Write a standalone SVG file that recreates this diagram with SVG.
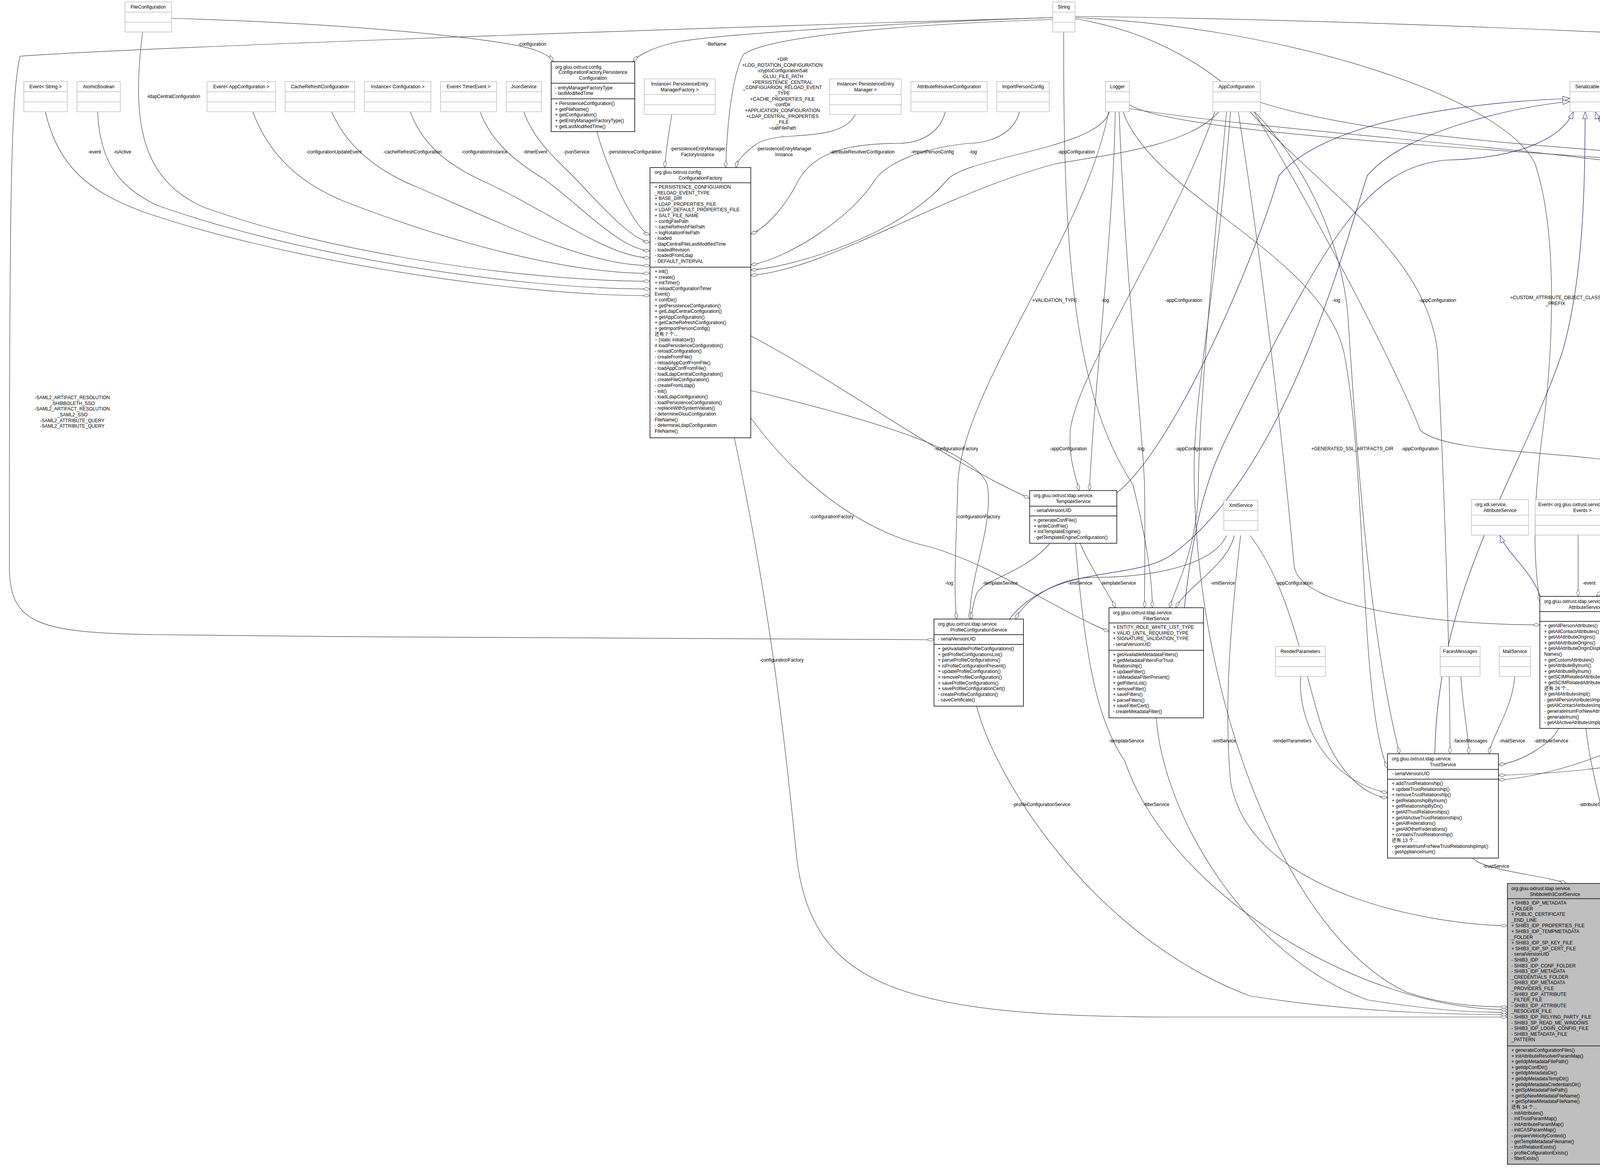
<svg xmlns="http://www.w3.org/2000/svg" width="5429" height="2988" viewBox="0 0 5429 2988">
<defs>
<style>
text{font-family:"Liberation Sans","Noto Sans CJK SC",Arial,sans-serif;font-size:12px;fill:#000}
.c{text-anchor:middle}
.e rect{fill:#fff;stroke:#bfbfbf;stroke-width:1.5}
.e line{stroke:#bfbfbf;stroke-width:1.5}
.n rect{fill:#fff;stroke:#000;stroke-width:1.5}
.n line{stroke:#000;stroke-width:1.5}
.red rect{stroke:#ff0000}
.red line{stroke:#ff0000}
.gry rect{fill:#bfbfbf}
#edges path{fill:none;stroke:#404040;stroke-width:1.2}
#edges path.i{stroke:#191970}
#edges text{text-anchor:middle}
</style>
<marker id="d" viewBox="0 0 20 10" refX="19" refY="5" markerWidth="20" markerHeight="10" orient="auto" markerUnits="userSpaceOnUse"><path d="M1,5 L10,1 L19,5 L10,9 Z" fill="#fff" stroke="#404040"/></marker>
<marker id="t" viewBox="0 0 20 14" refX="19" refY="7" markerWidth="20" markerHeight="14" orient="auto" markerUnits="userSpaceOnUse"><path d="M1,1 L19,7 L1,13 Z" fill="#fff" stroke="#191970"/></marker>
</defs>
<rect width="5429" height="2988" fill="#fff"/>

<g id="edges">
<!-- into ConfigurationFactory -->
<path marker-end="url(#d)" d="M116,286 C150,430 230,490 360,540 C700,660 1300,757 1664,757"/>
<path marker-end="url(#d)" d="M250,286 C255,420 310,480 400,525 C750,650 1300,740 1664,740"/>
<path marker-end="url(#d)" d="M365,82 C335,320 365,460 520,530 C850,650 1350,720 1664,720"/>
<path marker-end="url(#d)" d="M647,286 C690,400 770,470 880,515 C1150,620 1450,700 1664,700"/>
<path marker-end="url(#d)" d="M849,286 C890,380 970,440 1070,480 C1280,570 1500,680 1664,680"/>
<path marker-end="url(#d)" d="M1050,286 C1085,380 1160,430 1250,470 C1420,550 1560,660 1664,660"/>
<path marker-end="url(#d)" d="M1229,286 C1260,370 1330,420 1395,460 C1490,530 1590,640 1664,642"/>
<path marker-end="url(#d)" d="M1341,286 C1370,370 1440,420 1485,470 C1550,540 1620,615 1664,620"/>
<path marker-end="url(#d)" d="M1528,337 C1545,400 1565,440 1580,480 C1610,540 1640,595 1664,601"/>
<path marker-end="url(#d)" d="M1720,293 C1712,340 1704,390 1702,429"/>
<path marker-end="url(#d)" d="M2695,50 C2300,62 1960,95 1903,140 C1870,200 1860,350 1858,429"/>
<path marker-end="url(#d)" d="M2190,293 C2150,370 1990,330 1935,370 C1905,392 1888,410 1884,429"/>
<path marker-end="url(#d)" d="M2420,286 C2405,345 2350,367 2300,367 C2150,367 2080,400 2045,460 C2010,530 1960,585 1922,599"/>
<path marker-end="url(#d)" d="M2610,286 C2595,345 2530,367 2480,367 C2350,380 2270,420 2240,460 C2180,560 2010,665 1922,678"/>
<path marker-end="url(#d)" d="M2840,286 C2815,380 2480,400 2425,460 C2310,600 2030,685 1922,691"/>
<path marker-end="url(#d)" d="M3120,286 C3040,380 2800,400 2700,420 C2400,500 2120,690 1922,705"/>
<!-- into PersistenceConfiguration -->
<path marker-end="url(#d)" d="M439,47 C900,60 1300,100 1375,130 C1400,140 1412,150 1416,158"/>
<path marker-end="url(#d)" d="M2695,45 C2300,58 1800,90 1722,110 C1665,125 1635,140 1620,158"/>
<!-- from ConfigurationFactory -->
<path marker-end="url(#d)" d="M1922,860 C2150,980 2420,1180 2636,1276"/>
<path marker-end="url(#d)" d="M1922,1000 C2300,1090 2520,1170 2529,1250 C2540,1360 2480,1480 2483,1585"/>
<path marker-end="url(#d)" d="M1922,1070 C2040,1230 2200,1360 2380,1400 C2550,1450 2700,1560 2839,1617"/>
<path marker-end="url(#d)" d="M1880,1121 C1960,1500 2000,1800 2040,2200 C2080,2520 2300,2604 3000,2604 C3500,2604 3800,2604 3859,2604"/>
<!-- Logger -->
<path marker-end="url(#d)" d="M2855,286 C2850,600 2800,1000 2789,1256"/>
<path marker-end="url(#d)" d="M2875,286 C2950,500 3380,650 3440,900 C3500,1200 3480,1800 3552,1967"/>
<path marker-end="url(#d)" d="M2891,268 C3000,340 3800,380 4400,425 C4580,440 4645,560 4654,656"/>
<path marker-end="url(#d)" d="M2891,278 C3400,360 4500,400 4800,560 C4860,650 4862,1000 4862,1227"/>
<path marker-end="url(#d)" d="M2865,286 C2880,700 2925,1100 2930,1240 C2932,1400 2930,1500 2930,1556"/>
<path marker-end="url(#d)" d="M2838,286 C2780,600 2460,1000 2452,1240 C2448,1400 2440,1500 2449,1585"/>
<!-- AppConfiguration -->
<path marker-end="url(#d)" d="M3226,262 C3600,380 4300,380 4500,430 C4620,460 4660,560 4662,656"/>
<path marker-end="url(#d)" d="M3140,286 C3100,700 3068,1100 3068,1240 C3068,1400 3010,1500 2994,1556"/>
<path marker-end="url(#d)" d="M3200,286 C3400,500 3650,650 3680,900 C3700,1300 3712,1700 3712,1930"/>
<path marker-end="url(#d)" d="M3110,286 C3000,600 2760,950 2740,1100 C2735,1180 2755,1220 2762,1256"/>
<path marker-end="url(#d)" d="M3150,286 C3120,700 3057,1000 3057,1200 C3057,1800 3300,2400 3600,2540 C3700,2575 3800,2578 3859,2578"/>
<path marker-end="url(#d)" d="M3170,286 C3250,800 3300,1300 3313,1450 C3330,1560 3700,1600 3942,1600"/>
<path marker-end="url(#d)" d="M3210,286 C3400,600 3600,1000 3635,1100 C3700,1170 4100,1150 4230,1204"/>
<!-- String -->
<path marker-end="url(#d)" d="M2723,82 C2722,600 2740,1000 2900,1240 C2940,1400 2950,1500 2950,1556"/>
<path marker-end="url(#d)" d="M2752,45 C3300,70 3850,250 3930,420 C3990,600 3975,900 3950,1100 C3930,1250 3920,1400 3942,1540"/>
<path marker-end="url(#d)" d="M2752,48 C3200,120 3420,500 3450,800 C3470,1100 3500,1600 3583,1930"/>
<path marker-end="url(#d)" d="M2752,42 C3500,50 4700,100 5015,147 C5171,160 5241,300 5241,600 L5241,2500 C5241,2555 5180,2560 4102,2560"/>
<path marker-end="url(#d)" d="M2695,45 C1500,80 300,125 51,144 C28,250 24,500 24,1450 C24,1600 100,1620 400,1625 C1200,1635 2200,1638 2391,1638"/>
<!-- PersistenceEntryManager / CacheService -->
<path marker-end="url(#d)" d="M4876,286 C4860,380 4780,500 4727,656"/>
<path marker-end="url(#d)" d="M4841,287 C4750,360 4500,380 4405,450 C4350,520 4345,700 4345,900 C4340,1050 4230,1100 4212,1204"/>
<path marker-end="url(#d)" d="M4962,287 C5050,380 5101,420 5110,600 C5120,1000 5110,1600 5100,2200 C5090,2500 4400,2575 4102,2575"/>
<path marker-end="url(#d)" d="M4661,286 C4661,450 4668,550 4670,656"/>
<!-- OrganizationService -->
<path marker-end="url(#d)" d="M4640,892 C4600,1000 4400,1100 4354,1204"/>
<path marker-end="url(#d)" d="M4660,892 C4650,1100 4610,1300 4600,1450 C4580,1750 4100,1980 3836,1997"/>
<path marker-end="url(#d)" d="M4684,892 C4700,1200 4761,1500 4761,1800 C4761,2300 4400,2595 4102,2600"/>
<!-- EncryptionService -->
<path marker-end="url(#d)" d="M4193,842 C4200,1000 4300,1100 4315,1204"/>
<path marker-end="url(#d)" d="M4233,842 C4300,1100 4470,1400 4466,1700 C4460,2200 4300,2580 4102,2592"/>
<!-- ApplianceService -->
<path marker-end="url(#d)" d="M4230,1442 C4180,1480 4120,1490 4087,1527"/>
<path marker-end="url(#d)" d="M4340,1442 C4380,1600 4390,1800 4380,2100 C4370,2400 4250,2580 4102,2583"/>
<path marker-end="url(#d)" d="M4300,1442 C4330,1650 4356,1800 4340,1880 C4300,1960 4000,1980 3836,1985"/>
<!-- AttributeService -->
<path marker-end="url(#d)" d="M3990,1865 C3975,1900 3900,1950 3836,1958"/>
<path marker-end="url(#d)" d="M4060,1865 C4080,2050 4170,2250 4102,2311"/>
<!-- TemplateService -->
<path marker-end="url(#d)" d="M2688,1391 C2620,1470 2520,1480 2500,1520 C2490,1550 2487,1570 2487,1585"/>
<path marker-end="url(#d)" d="M2765,1391 C2800,1470 2840,1520 2855,1556"/>
<path marker-end="url(#d)" d="M2753,1391 C2780,1700 2808,1840 2880,1950 C3000,2300 3500,2585 3859,2585"/>
<!-- XmlService -->
<path marker-end="url(#d)" d="M3140,1371 C3100,1460 2900,1480 2800,1478 C2700,1480 2620,1540 2600,1585"/>
<path marker-end="url(#d)" d="M3160,1371 C3140,1450 3040,1500 3010,1556"/>
<path marker-end="url(#d)" d="M3200,1371 C3300,1500 3334,1700 3380,1850 C3420,1980 3500,2040 3552,2042"/>
<path marker-end="url(#d)" d="M3176,1371 C3150,1600 3133,1800 3150,2000 C3200,2300 3700,2370 3859,2370"/>
<!-- small services -->
<path marker-end="url(#d)" d="M3330,1732 C3320,1850 3400,2000 3552,2030"/>
<path marker-end="url(#d)" d="M3740,1732 C3745,1820 3760,1880 3760,1930"/>
<path marker-end="url(#d)" d="M3878,1732 C3870,1820 3820,1880 3812,1930"/>
<path marker-end="url(#d)" d="M4040,1371 L4040,1527"/>
<!-- into Shibboleth3ConfService -->
<path marker-end="url(#d)" d="M2500,1808 C2550,2000 2800,2400 3200,2550 C3500,2598 3800,2598 3859,2598"/>
<path marker-end="url(#d)" d="M2960,1838 C2980,2100 3200,2450 3500,2560 C3700,2592 3800,2592 3859,2592"/>
<path marker-end="url(#d)" d="M3770,2197 C3800,2230 3950,2240 4010,2262"/>
<path marker-end="url(#d)" d="M4880,1420 C4900,1700 5013,1900 5000,2100 C4980,2450 4500,2613 4102,2613"/>
<path marker-end="url(#d)" d="M5315,2092 C5300,2300 5000,2600 4102,2625"/>
<!-- inheritance -->
<path class="i" marker-end="url(#t)" d="M2859,1262 C3000,1150 3200,700 3274,450 C3400,300 3800,260 4019,252"/>
<path class="i" marker-end="url(#t)" d="M2584,1585 C2700,1440 2900,1490 3000,1420 C3300,1200 3450,600 3500,450 C3600,330 3900,270 4019,260"/>
<path class="i" marker-end="url(#t)" d="M3032,1556 C3060,1300 3100,1200 3150,1100 C3400,600 3500,430 3700,410 C3900,405 4000,350 4028,286"/>
<path class="i" marker-end="url(#t)" d="M3673,1930 C3680,1500 3900,1200 4000,900 C4057,700 4057,450 4058,286"/>
<path class="i" marker-end="url(#t)" d="M3943,1527 C3920,1460 3860,1420 3840,1371"/>
<path class="i" marker-end="url(#t)" d="M4205,1204 C4150,1100 4132,700 4132,450 C4130,350 4095,320 4084,286"/>
<path class="i" marker-end="url(#t)" d="M4204,707 C4190,620 4110,420 4098,286"/>
<path class="i" marker-end="url(#t)" d="M4636,656 C4600,500 4450,400 4435,293"/>
<path class="i" marker-end="url(#t)" d="M4880,1227 C4880,900 4910,500 4858,380 C4700,355 4300,350 4200,330 C4150,310 4125,290 4108,268"/>
<path class="i" marker-end="url(#t)" d="M4102,2538 C4300,2500 4500,1700 4512,1480 C4515,1300 4500,1100 4470,1000 C4380,950 4340,850 4345,700 C4350,500 4250,380 4104,286"/>

<!-- labels -->
<text x="242" y="393">-event</text>
<text x="313" y="393">-isActive</text>
<text x="444" y="251">-ldapCentralConfiguration</text>
<text x="855" y="393">-configurationUpdateEvent</text>
<text x="1056" y="393">-cacheRefreshConfiguration</text>
<text x="1240" y="393">-configurationInstance</text>
<text x="1370" y="393">-timerEvent</text>
<text x="1476" y="393">-jsonService</text>
<text x="1625" y="393">-persistenceConfiguration</text>
<text x="1786" y="385">-persistenceEntryManager</text>
<text x="1786" y="400">FactoryInstance</text>
<text x="2007" y="385">-persistenceEntryManager</text>
<text x="2007" y="400">Instance</text>
<text x="2207" y="393">-attributeResolverConfiguration</text>
<text x="2387" y="393">-importPersonConfig</text>
<text x="2491" y="393">-log</text>
<text x="2755" y="393">-appConfiguration</text>
<text x="4118" y="393">-log</text>
<text x="4414" y="393">-appConfiguration</text>
<text x="4710" y="393">-cacheService</text>
<text x="4901" y="393">-ldapEntryManager</text>
<text x="1362" y="117">-configuration</text>
<text x="1834" y="117">-fileName</text>
<text x="2003" y="156">+DIR</text>
<text x="2003" y="171">+LOG_ROTATION_CONFIGURATION</text>
<text x="2003" y="185">-cryptoConfigurationSalt</text>
<text x="2003" y="200">-GLUU_FILE_PATH</text>
<text x="2003" y="215">+PERSISTENCE_CENTRAL</text>
<text x="2003" y="228">_CONFIGUARION_RELOAD_EVENT</text>
<text x="2003" y="243">_TYPE</text>
<text x="2003" y="258">+CACHE_PROPERTIES_FILE</text>
<text x="2003" y="272">-confDir</text>
<text x="2003" y="287">+APPLICATION_CONFIGURATION</text>
<text x="2003" y="302">+LDAP_CENTRAL_PROPERTIES</text>
<text x="2003" y="317">_FILE</text>
<text x="2003" y="332">~saltFilePath</text>
<text x="2003" y="349">...</text>
<text x="2700" y="773">+VALIDATION_TYPE</text>
<text x="2829" y="773">-log</text>
<text x="3030" y="773">-appConfiguration</text>
<text x="3421" y="773">-log</text>
<text x="3680" y="773">-appConfiguration</text>
<text x="3982" y="766">+CUSTOM_ATTRIBUTE_OBJECT_CLASS</text>
<text x="3982" y="781">_PREFIX</text>
<text x="4485" y="778">-ldapEntryManager</text>
<text x="4830" y="773">-log</text>
<text x="2448" y="1153">-configurationFactory</text>
<text x="2735" y="1153">-appConfiguration</text>
<text x="2920" y="1153">-log</text>
<text x="3057" y="1153">-appConfiguration</text>
<text x="3462" y="1153">+GENERATED_SSL_ARTIFACTS_DIR</text>
<text x="3635" y="1153">-appConfiguration</text>
<text x="4207" y="1153">-encryptionService</text>
<text x="4466" y="1153">-organizationService</text>
<text x="2129" y="1327">-configurationFactory</text>
<text x="2504" y="1327">-configurationFactory</text>
<text x="4609" y="1327">-organizationService</text>
<text x="5121" y="1323">-ldapEntryManager</text>
<text x="2430" y="1497">-log</text>
<text x="2561" y="1497">-templateService</text>
<text x="2765" y="1497">-xmlService</text>
<text x="2863" y="1497">-templateService</text>
<text x="3130" y="1497">-xmlService</text>
<text x="3313" y="1497">-appConfiguration</text>
<text x="4068" y="1497">-event</text>
<text x="4160" y="1497">-applianceService</text>
<text x="2001" y="1694">-configurationFactory</text>
<text x="3334" y="1694">-xmlService</text>
<text x="4390" y="1694">-applianceService</text>
<text x="4466" y="1694">-encryptionService</text>
<text x="4761" y="1694">-organizationService</text>
<text x="2884" y="1901">-templateService</text>
<text x="3133" y="1901">-xmlService</text>
<text x="3307" y="1901">-renderParameters</text>
<text x="3764" y="1901">-facesMessages</text>
<text x="3871" y="1901">-mailService</text>
<text x="3971" y="1901">-attributeService</text>
<text x="4356" y="1901">-applianceService</text>
<text x="5013" y="1901">-casService</text>
<text x="2666" y="2064">-profileConfigurationService</text>
<text x="2960" y="2064">-filterService</text>
<text x="4086" y="2064">-attributeService</text>
<text x="3830" y="2222">-trustService</text>
<text x="5315" y="2220">-schemaService</text>
<text x="185" y="1022">-SAML2_ARTIFACT_RESOLUTION</text>
<text x="185" y="1037">_SHIBBOLETH_SSO</text>
<text x="185" y="1051">-SAML2_ARTIFACT_RESOLUTION</text>
<text x="185" y="1066">_SAML2_SSO</text>
<text x="185" y="1081">-SAML2_ATTRIBUTE_QUERY</text>
<text x="185" y="1095">-SAML2_ATTRIBUTE_QUERY</text>
<text x="5334" y="1196">-SHIB3_SP_METADATA</text>
<text x="5334" y="1208">_FILE_PATTERN</text>
<text x="5334" y="1224">-SHIB3_IDP_CAS_PROTOCOL</text>
<text x="5334" y="1237">_FILE</text>
<text x="5334" y="1252">-SHIB3_SP</text>
<text x="5334" y="1266">-SHIB3_SP_READ_ME</text>
<text x="5334" y="1281">+SHIB3_IDP_SP_METADATA</text>
<text x="5334" y="1295">_FILE</text>
<text x="5334" y="1310">+PUBLIC_CERTIFICATE</text>
<text x="5334" y="1323">_START_LINE</text>
<text x="5334" y="1338">+SHIB3_SP_SHIBBOLETH2</text>
<text x="5334" y="1352">_FILE</text>
<text x="5334" y="1367">+SHIB3_SP_ATTRIBUTE</text>
<text x="5334" y="1381">_MAP_FILE</text>
<text x="5334" y="1396">-SHIB3_SAML_NAMEID</text>
<text x="5334" y="1411">_FILE</text>
<text x="5334" y="1425">+SHIB3_IDP_IDP_METADATA</text>
<text x="5334" y="1439">_FILE</text>
<text x="5334" y="1454">...</text>
</g>

<!-- external simple nodes -->
<g id="FileConfiguration" class="e" transform="translate(320,5)"><rect width="119" height="77"/><line x1="0" y1="26" x2="119" y2="26"/><line x1="0" y1="52" x2="119" y2="52"/><text class="c" x="59.5" y="17">FileConfiguration</text></g>
<g id="EventString" class="e" transform="translate(61,209)"><rect width="111" height="77"/><line x1="0" y1="26" x2="111" y2="26"/><line x1="0" y1="52" x2="111" y2="52"/><text class="c" x="55.5" y="17">Event&lt; String &gt;</text></g>
<g id="AtomicBoolean" class="e" transform="translate(197,209)"><rect width="111" height="77"/><line x1="0" y1="26" x2="111" y2="26"/><line x1="0" y1="52" x2="111" y2="52"/><text class="c" x="55.5" y="17">AtomicBoolean</text></g>
<g id="EventAppConfiguration" class="e" transform="translate(530,209)"><rect width="175" height="77"/><line x1="0" y1="26" x2="175" y2="26"/><line x1="0" y1="52" x2="175" y2="52"/><text class="c" x="87.5" y="17">Event&lt; AppConfiguration &gt;</text></g>
<g id="CacheRefreshConfiguration" class="e" transform="translate(730,209)"><rect width="178" height="77"/><line x1="0" y1="26" x2="178" y2="26"/><line x1="0" y1="52" x2="178" y2="52"/><text class="c" x="89" y="17">CacheRefreshConfiguration</text></g>
<g id="InstanceConfiguration" class="e" transform="translate(933,209)"><rect width="170" height="77"/><line x1="0" y1="26" x2="170" y2="26"/><line x1="0" y1="52" x2="170" y2="52"/><text class="c" x="85" y="17">Instance&lt; Configuration &gt;</text></g>
<g id="EventTimerEvent" class="e" transform="translate(1128,209)"><rect width="143" height="77"/><line x1="0" y1="26" x2="143" y2="26"/><line x1="0" y1="52" x2="143" y2="52"/><text class="c" x="71.5" y="17">Event&lt; TimerEvent &gt;</text></g>
<g id="JsonService" class="e" transform="translate(1296,209)"><rect width="90" height="77"/><line x1="0" y1="26" x2="90" y2="26"/><line x1="0" y1="52" x2="90" y2="52"/><text class="c" x="45" y="17">JsonService</text></g>
<g id="AttributeResolverConfiguration" class="e" transform="translate(2332,209)"><rect width="195" height="77"/><line x1="0" y1="26" x2="195" y2="26"/><line x1="0" y1="52" x2="195" y2="52"/><text class="c" x="97.5" y="17">AttributeResolverConfiguration</text></g>
<g id="ImportPersonConfig" class="e" transform="translate(2552,209)"><rect width="134" height="77"/><line x1="0" y1="26" x2="134" y2="26"/><line x1="0" y1="52" x2="134" y2="52"/><text class="c" x="67" y="17">ImportPersonConfig</text></g>
<g id="String" class="e" transform="translate(2695,5)"><rect width="57" height="77"/><line x1="0" y1="26" x2="57" y2="26"/><line x1="0" y1="52" x2="57" y2="52"/><text class="c" x="28.5" y="17">String</text></g>
<g id="Logger" class="e" transform="translate(2830,209)"><rect width="61" height="77"/><line x1="0" y1="26" x2="61" y2="26"/><line x1="0" y1="52" x2="61" y2="52"/><text class="c" x="30.5" y="17">Logger</text></g>
<g id="AppConfiguration" class="e" transform="translate(3105,209)"><rect width="121" height="77"/><line x1="0" y1="26" x2="121" y2="26"/><line x1="0" y1="52" x2="121" y2="52"/><text class="c" x="60.5" y="17">AppConfiguration</text></g>
<g id="Serializable" class="e" transform="translate(4019,209)"><rect width="89" height="77"/><line x1="0" y1="26" x2="89" y2="26"/><line x1="0" y1="52" x2="89" y2="52"/><text class="c" x="44.5" y="17">Serializable</text></g>
<g id="CacheService" class="e" transform="translate(4611,209)"><rect width="101" height="77"/><line x1="0" y1="26" x2="101" y2="26"/><line x1="0" y1="52" x2="101" y2="52"/><text class="c" x="50.5" y="17">CacheService</text></g>
<g id="PersistenceEntryManager" class="e" transform="translate(4811,209)"><rect width="172" height="77"/><line x1="0" y1="26" x2="172" y2="26"/><line x1="0" y1="52" x2="172" y2="52"/><text class="c" x="86" y="17">PersistenceEntryManager</text></g>
<g id="XmlService" class="e" transform="translate(3133,1281)"><rect width="87" height="77"/><line x1="0" y1="26" x2="87" y2="26"/><line x1="0" y1="52" x2="87" y2="52"/><text class="c" x="43.5" y="17">XmlService</text></g>
<g id="RenderParameters" class="e" transform="translate(3265,1655)"><rect width="128" height="77"/><line x1="0" y1="26" x2="128" y2="26"/><line x1="0" y1="52" x2="128" y2="52"/><text class="c" x="64" y="17">RenderParameters</text></g>
<g id="FacesMessages" class="e" transform="translate(3687,1655)"><rect width="102" height="77"/><line x1="0" y1="26" x2="102" y2="26"/><line x1="0" y1="52" x2="102" y2="52"/><text class="c" x="51" y="17">FacesMessages</text></g>
<g id="MailService" class="e" transform="translate(3838,1655)"><rect width="80" height="77"/><line x1="0" y1="26" x2="80" y2="26"/><line x1="0" y1="52" x2="80" y2="52"/><text class="c" x="40" y="17">MailService</text></g>
<g id="SchemaService" class="e" transform="translate(5265,2015)"><rect width="100" height="77"/><line x1="0" y1="26" x2="100" y2="26"/><line x1="0" y1="52" x2="100" y2="52"/><text class="c" x="50" y="17">SchemaService</text></g>

<!-- external two-line nodes -->
<g id="InstancePEMFactory" class="e" transform="translate(1649,202)"><rect width="182" height="91"/><line x1="0" y1="40" x2="182" y2="40"/><line x1="0" y1="66" x2="182" y2="66"/><text class="c" x="91" y="17">Instance&lt; PersistenceEntry</text><text class="c" x="91" y="32">ManagerFactory &gt;</text></g>
<g id="InstancePEM" class="e" transform="translate(2124,202)"><rect width="183" height="91"/><line x1="0" y1="40" x2="183" y2="40"/><line x1="0" y1="66" x2="183" y2="66"/><text class="c" x="91.5" y="17">Instance&lt; PersistenceEntry</text><text class="c" x="91.5" y="32">Manager &gt;</text></g>
<g id="XdiOrganizationService" class="e" transform="translate(4318,202)"><rect width="136" height="91"/><line x1="0" y1="40" x2="136" y2="40"/><line x1="0" y1="66" x2="136" y2="66"/><text x="8" y="17">org.xdi.service.</text><text class="c" x="68" y="32">OrganizationService</text></g>
<g id="XdiAttributeService" class="e" transform="translate(3767,1279)"><rect width="146" height="91"/><line x1="0" y1="40" x2="146" y2="40"/><line x1="0" y1="66" x2="146" y2="66"/><text x="10" y="17">org.xdi.service.</text><text class="c" x="73" y="32">AttributeService</text></g>
<g id="EventEvents" class="e" transform="translate(3930,1279)"><rect width="242" height="91"/><line x1="0" y1="40" x2="242" y2="40"/><line x1="0" y1="66" x2="242" y2="66"/><text x="8" y="17">Event&lt; org.gluu.oxtrust.service.cdi.event.</text><text class="c" x="121" y="32">Events &gt;</text></g>

<!-- PersistenceConfiguration -->
<g id="PersistenceConfiguration" class="n" transform="translate(1411,158)"><rect width="214" height="179"/><line x1="0" y1="55" x2="214" y2="55"/><line x1="0" y1="95" x2="214" y2="95"/>
<text x="10" y="18">org.gluu.oxtrust.config.</text><text class="c" x="107" y="31">ConfigurationFactory.Persistence</text><text class="c" x="107" y="46">Configuration</text>
<text x="10" y="71">- entryManagerFactoryType</text><text x="10" y="85">- lastModifiedTime</text>
<text x="10" y="111">+ PersistenceConfiguration()</text><text x="10" y="126">+ getFileName()</text><text x="10" y="140">+ getConfiguration()</text><text x="10" y="155">+ getEntryManagerFactoryType()</text><text x="10" y="170">+ getLastModifiedTime()</text></g>

<!-- ConfigurationFactory -->
<g id="ConfigurationFactory" class="n" transform="translate(1664,429)"><rect width="258" height="692"/><line x1="0" y1="39" x2="258" y2="39"/><line x1="0" y1="255" x2="258" y2="255"/>
<text x="12" y="16">org.gluu.oxtrust.config.</text><text class="c" x="129" y="31">ConfigurationFactory</text>
<text x="12" y="54">+ PERSISTENCE_CONFIGUARION</text>
<text x="12" y="68.6">_RELOAD_EVENT_TYPE</text>
<text x="12" y="83.2">+ BASE_DIR</text>
<text x="12" y="97.8">+ LDAP_PROPERTIES_FILE</text>
<text x="12" y="112.4">+ LDAP_DEFAULT_PROPERTIES_FILE</text>
<text x="12" y="127">+ SALT_FILE_NAME</text>
<text x="12" y="141.6">~ configFilePath</text>
<text x="12" y="156.2">~ cacheRefreshFilePath</text>
<text x="12" y="170.8">~ logRotationFilePath</text>
<text x="12" y="185.4">- loaded</text>
<text x="12" y="200">- ldapCentralFileLastModifiedTime</text>
<text x="12" y="214.6">- loadedRevision</text>
<text x="12" y="229.2">- loadedFromLdap</text>
<text x="12" y="243.8">- DEFAULT_INTERVAL</text>
<text x="12" y="270">+ init()</text>
<text x="12" y="284.6">+ create()</text>
<text x="12" y="299.2">+ initTimer()</text>
<text x="12" y="313.8">+ reloadConfigurationTimer</text>
<text x="12" y="328.4">Event()</text>
<text x="12" y="343">+ confDir()</text>
<text x="12" y="357.6">+ getPersistenceConfiguration()</text>
<text x="12" y="372.2">+ getLdapCentralConfiguration()</text>
<text x="12" y="386.8">+ getAppConfiguration()</text>
<text x="12" y="401.4">+ getCacheRefreshConfiguration()</text>
<text x="12" y="416">+ getImportPersonConfig()</text>
<text x="12" y="430.6">还有 7 个...</text>
<text x="12" y="445.2">~ [static initializer]()</text>
<text x="12" y="459.8"># loadPersistenceConfiguration()</text>
<text x="12" y="474.4">- reloadConfiguration()</text>
<text x="12" y="489">- createFromFile()</text>
<text x="12" y="503.6">- reloadAppConfFromFile()</text>
<text x="12" y="518.2">- loadAppConfFromFile()</text>
<text x="12" y="532.8">- loadLdapCentralConfiguration()</text>
<text x="12" y="547.4">- createFileConfiguration()</text>
<text x="12" y="562">- createFromLdap()</text>
<text x="12" y="576.6">- init()</text>
<text x="12" y="591.2">- loadLdapConfiguration()</text>
<text x="12" y="605.8">- loadPersistenceConfiguration()</text>
<text x="12" y="620.4">- replaceWithSystemValues()</text>
<text x="12" y="635">- determineGluuConfiguration</text>
<text x="12" y="649.6">FileName()</text>
<text x="12" y="664.2">- determineLdapConfiguration</text>
<text x="12" y="678.8">FileName()</text></g>

<!-- EncryptionService -->
<g id="EncryptionService" class="n red" transform="translate(4128,707)"><rect width="188" height="135"/><line x1="0" y1="40" x2="188" y2="40"/><line x1="0" y1="65" x2="188" y2="65"/>
<text x="11" y="17">org.gluu.oxtrust.ldap.service.</text><text class="c" x="94" y="32">EncryptionService</text>
<text x="11" y="55">- serialVersionUID</text>
<text x="11" y="80">+ decrypt()</text><text x="11" y="94.6">+ encrypt()</text><text x="11" y="109.2">+ decryptProperties()</text><text x="11" y="123.8">+ decryptAllProperties()</text></g>

<!-- OrganizationService -->
<g id="OrganizationService" class="n" transform="translate(4553,656)"><rect width="247" height="236"/><line x1="0" y1="40" x2="247" y2="40"/><line x1="0" y1="65" x2="247" y2="65"/>
<text x="11" y="17">org.gluu.oxtrust.ldap.service.</text><text class="c" x="123.5" y="32">OrganizationService</text>
<text x="11" y="55">- serialVersionUID</text>
<text x="11" y="80">+ updateOrganization()</text>
<text x="11" y="94.6">+ containsOrganization()</text>
<text x="11" y="109.2">+ getOrganization()</text>
<text x="11" y="123.8">+ getOrganizationByInum()</text>
<text x="11" y="138.4">+ getDnForOrganization()</text>
<text x="11" y="153">+ getOrganizationCustomMessage()</text>
<text x="11" y="167.6">+ buildOrganizationCustomMessages()</text>
<text x="11" y="182.2">+ getDnForOrganization()</text>
<text x="11" y="196.8">+ getBaseDn()</text>
<text x="11" y="211.4">+ getInumForOrganization()</text>
<text x="11" y="226">还有 9 个...</text></g>

<!-- ApplianceService -->
<g id="ApplianceService" class="n" transform="translate(4202,1204)"><rect width="187" height="238"/><line x1="0" y1="40" x2="187" y2="40"/><line x1="0" y1="66" x2="187" y2="66"/>
<text x="10" y="17">org.gluu.oxtrust.ldap.service.</text><text class="c" x="93.5" y="32">ApplianceService</text>
<text x="10" y="56">- serialVersionUID</text>
<text x="10" y="81">+ contains()</text>
<text x="10" y="95.6">+ addAppliance()</text>
<text x="10" y="110.2">+ updateAppliance()</text>
<text x="10" y="124.8">+ containsAppliance()</text>
<text x="10" y="139.4">+ getApplianceByInum()</text>
<text x="10" y="154">+ getAppliance()</text>
<text x="10" y="168.6">+ getAppliance()</text>
<text x="10" y="183.2">+ getAppliances()</text>
<text x="10" y="197.8">+ getDnForAppliance()</text>
<text x="10" y="212.4">+ getDnForAppliance()</text>
<text x="10" y="227">还有 8 个...</text></g>

<!-- CASService -->
<g id="CASService" class="n" transform="translate(4744,1227)"><rect width="247" height="193"/><line x1="0" y1="40" x2="247" y2="40"/><line x1="0" y1="65" x2="247" y2="65"/>
<text x="11" y="17">org.gluu.oxtrust.ldap.service.</text><text class="c" x="123.5" y="32">CASService</text>
<text x="11" y="55">- serialVersionUID</text>
<text x="11" y="80">+ init()</text>
<text x="11" y="94.6">+ destroy()</text>
<text x="11" y="109.2">+ loadCASConfiguration()</text>
<text x="11" y="123.8">+ updateCASConfiguration()</text>
<text x="11" y="138.4">+ addCASConfiguration()</text>
<text x="11" y="153">- getDnForLdapShibbolethCASProtocol</text>
<text x="11" y="167.6">Configuration()</text>
<text x="11" y="182.2">- generateInum()</text></g>

<!-- AttributeService -->
<g id="AttributeService" class="n" transform="translate(3942,1527)"><rect width="232" height="338"/><line x1="0" y1="39" x2="232" y2="39"/><line x1="0" y1="64" x2="232" y2="64"/>
<text x="11" y="17">org.gluu.oxtrust.ldap.service.</text><text class="c" x="116" y="32">AttributeService</text>
<text x="11" y="79">+ getAllPersonAttributes()</text>
<text x="11" y="93.6">+ getAllContactAttributes()</text>
<text x="11" y="108.2">+ getAllAttributeOrigins()</text>
<text x="11" y="122.8">+ getAllAttributeOrigins()</text>
<text x="11" y="137.4">+ getAllAttributeOriginDisplay</text>
<text x="11" y="152">Names()</text>
<text x="11" y="166.6">+ getCustomAttributes()</text>
<text x="11" y="181.2">+ getAttributeByInum()</text>
<text x="11" y="195.8">+ getAttributeByInum()</text>
<text x="11" y="210.4">+ getSCIMRelatedAttributes()</text>
<text x="11" y="225">+ getSCIMRelatedAttributesImpl()</text>
<text x="11" y="239.6">还有 26 个...</text>
<text x="11" y="254.2"># getAllAtributesImpl()</text>
<text x="11" y="268.8">- getAllPersonAtributesImpl()</text>
<text x="11" y="283.4">- getAllContactAtributesImpl()</text>
<text x="11" y="298">- generateInumForNewAttributeImpl()</text>
<text x="11" y="312.6">- generateInum()</text>
<text x="11" y="327.2">- getAllActiveAtributesImpl()</text></g>

<!-- TemplateService -->
<g id="TemplateService" class="n" transform="translate(2636,1256)"><rect width="223" height="135"/><line x1="0" y1="40" x2="223" y2="40"/><line x1="0" y1="65" x2="223" y2="65"/>
<text x="10" y="17">org.gluu.oxtrust.ldap.service.</text><text class="c" x="111.5" y="32">TemplateService</text>
<text x="10" y="55">- serialVersionUID</text>
<text x="10" y="80">+ generateConfFile()</text>
<text x="10" y="94.6">+ writeConfFile()</text>
<text x="10" y="109.2">+ initTemplateEngine()</text>
<text x="10" y="123.8">- getTemplateEngineConfiguration()</text></g>

<!-- ProfileConfigurationService -->
<g id="ProfileConfigurationService" class="n" transform="translate(2391,1585)"><rect width="229" height="223"/><line x1="0" y1="40" x2="229" y2="40"/><line x1="0" y1="65" x2="229" y2="65"/>
<text x="10" y="17">org.gluu.oxtrust.ldap.service.</text><text class="c" x="114.5" y="32">ProfileConfigurationService</text>
<text x="10" y="55">- serialVersionUID</text>
<text x="10" y="80">+ getAvailableProfileConfigurations()</text>
<text x="10" y="94.6">+ getProfileConfigurationsList()</text>
<text x="10" y="109.2">+ parseProfileConfigurations()</text>
<text x="10" y="123.8">+ isProfileConfigurationPresent()</text>
<text x="10" y="138.4">+ updateProfileConfiguration()</text>
<text x="10" y="153">+ removeProfileConfiguration()</text>
<text x="10" y="167.6">+ saveProfileConfigurations()</text>
<text x="10" y="182.2">+ saveProfileConfigurationCert()</text>
<text x="10" y="196.8">- createProfileConfiguration()</text>
<text x="10" y="211.4">- saveCertificate()</text></g>

<!-- FilterService -->
<g id="FilterService" class="n" transform="translate(2839,1556)"><rect width="242" height="282"/><line x1="0" y1="39" x2="242" y2="39"/><line x1="0" y1="109" x2="242" y2="109"/>
<text x="10" y="17">org.gluu.oxtrust.ldap.service.</text><text class="c" x="121" y="32">FilterService</text>
<text x="10" y="54">+ ENTITY_ROLE_WHITE_LIST_TYPE</text>
<text x="10" y="68.6">+ VALID_UNTIL_REQUIRED_TYPE</text>
<text x="10" y="83.2">+ SIGNATURE_VALIDATION_TYPE</text>
<text x="10" y="97.8">- serialVersionUID</text>
<text x="10" y="124">+ getAvailableMetadataFilters()</text>
<text x="10" y="138.6">+ getMetadataFiltersForTrust</text>
<text x="10" y="153.2">Relationship()</text>
<text x="10" y="167.8">+ updateFilter()</text>
<text x="10" y="182.4">+ isMetadataFilterPresent()</text>
<text x="10" y="197">+ getFiltersList()</text>
<text x="10" y="211.6">+ removeFilter()</text>
<text x="10" y="226.2">+ saveFilters()</text>
<text x="10" y="240.8">+ parseFilters()</text>
<text x="10" y="255.4">+ saveFilterCert()</text>
<text x="10" y="270">- createMetadataFilter()</text></g>

<!-- TrustService -->
<g id="TrustService" class="n" transform="translate(3552,1930)"><rect width="284" height="267"/><line x1="0" y1="40" x2="284" y2="40"/><line x1="0" y1="65" x2="284" y2="65"/>
<text x="11" y="17">org.gluu.oxtrust.ldap.service.</text><text class="c" x="142" y="32">TrustService</text>
<text x="11" y="55">- serialVersionUID</text>
<text x="11" y="80">+ addTrustRelationship()</text>
<text x="11" y="94.6">+ updateTrustRelationship()</text>
<text x="11" y="109.2">+ removeTrustRelationship()</text>
<text x="11" y="123.8">+ getRelationshipByInum()</text>
<text x="11" y="138.4">+ getRelationshipByDn()</text>
<text x="11" y="153">+ getAllTrustRelationships()</text>
<text x="11" y="167.6">+ getAllActiveTrustRelationships()</text>
<text x="11" y="182.2">+ getAllFederations()</text>
<text x="11" y="196.8">+ getAllOtherFederations()</text>
<text x="11" y="211.4">+ containsTrustRelationship()</text>
<text x="11" y="226">还有 13 个...</text>
<text x="11" y="240.6">- generateInumForNewTrustRelationshipImpl()</text>
<text x="11" y="255.2">- getApplianceInum()</text></g>

<!-- Shibboleth3ConfService -->
<g id="Shibboleth3ConfService" class="n gry" transform="translate(3859,2262)"><rect width="243" height="719"/><line x1="0" y1="39" x2="243" y2="39"/><line x1="0" y1="416" x2="243" y2="416"/>
<text x="10" y="17">org.gluu.oxtrust.ldap.service.</text><text class="c" x="121.5" y="32">Shibboleth3ConfService</text>
<text x="10" y="54">+ SHIB3_IDP_METADATA</text>
<text x="10" y="68.6">_FOLDER</text>
<text x="10" y="83.2">+ PUBLIC_CERTIFICATE</text>
<text x="10" y="97.8">_END_LINE</text>
<text x="10" y="112.4">+ SHIB3_IDP_PROPERTIES_FILE</text>
<text x="10" y="127">+ SHIB3_IDP_TEMPMETADATA</text>
<text x="10" y="141.6">_FOLDER</text>
<text x="10" y="156.2">+ SHIB3_IDP_SP_KEY_FILE</text>
<text x="10" y="170.8">+ SHIB3_IDP_SP_CERT_FILE</text>
<text x="10" y="185.4">- serialVersionUID</text>
<text x="10" y="200">- SHIB3_IDP</text>
<text x="10" y="214.6">- SHIB3_IDP_CONF_FOLDER</text>
<text x="10" y="229.2">- SHIB3_IDP_METADATA</text>
<text x="10" y="243.8">_CREDENTIALS_FOLDER</text>
<text x="10" y="258.4">- SHIB3_IDP_METADATA</text>
<text x="10" y="273">_PROVIDERS_FILE</text>
<text x="10" y="287.6">- SHIB3_IDP_ATTRIBUTE</text>
<text x="10" y="302.2">_FILTER_FILE</text>
<text x="10" y="316.8">- SHIB3_IDP_ATTRIBUTE</text>
<text x="10" y="331.4">_RESOLVER_FILE</text>
<text x="10" y="346">- SHIB3_IDP_RELYING_PARTY_FILE</text>
<text x="10" y="360.6">- SHIB3_SP_READ_ME_WINDOWS</text>
<text x="10" y="375.2">- SHIB3_IDP_LOGIN_CONFIG_FILE</text>
<text x="10" y="389.8">- SHIB3_METADATA_FILE</text>
<text x="10" y="404.4">_PATTERN</text>
<text x="10" y="431">+ generateConfigurationFiles()</text>
<text x="10" y="445.6">+ initAttributeResolverParamMap()</text>
<text x="10" y="460.2">+ getIdpMetadataFilePath()</text>
<text x="10" y="474.8">+ getIdpConfDir()</text>
<text x="10" y="489.4">+ getIdpMetadataDir()</text>
<text x="10" y="504">+ getIdpMetadataTempDir()</text>
<text x="10" y="518.6">+ getIdpMetadataCredentialsDir()</text>
<text x="10" y="533.2">+ getSpMetadataFilePath()</text>
<text x="10" y="547.8">+ getSpNewMetadataFileName()</text>
<text x="10" y="562.4">+ getSpNewMetadataFileName()</text>
<text x="10" y="577">还有 34 个...</text>
<text x="10" y="591.6">- initAttributes()</text>
<text x="10" y="606.2">- initTrustParamMap()</text>
<text x="10" y="620.8">- initAttributeParamMap()</text>
<text x="10" y="635.4">- initCASParamMap()</text>
<text x="10" y="650">- prepareVelocityContext()</text>
<text x="10" y="664.6">- getTempMetadataFilename()</text>
<text x="10" y="679.2">- trustRelationExists()</text>
<text x="10" y="693.8">- profileCofigurationExists()</text>
<text x="10" y="708.4">- filterExists()</text></g>
</svg>
